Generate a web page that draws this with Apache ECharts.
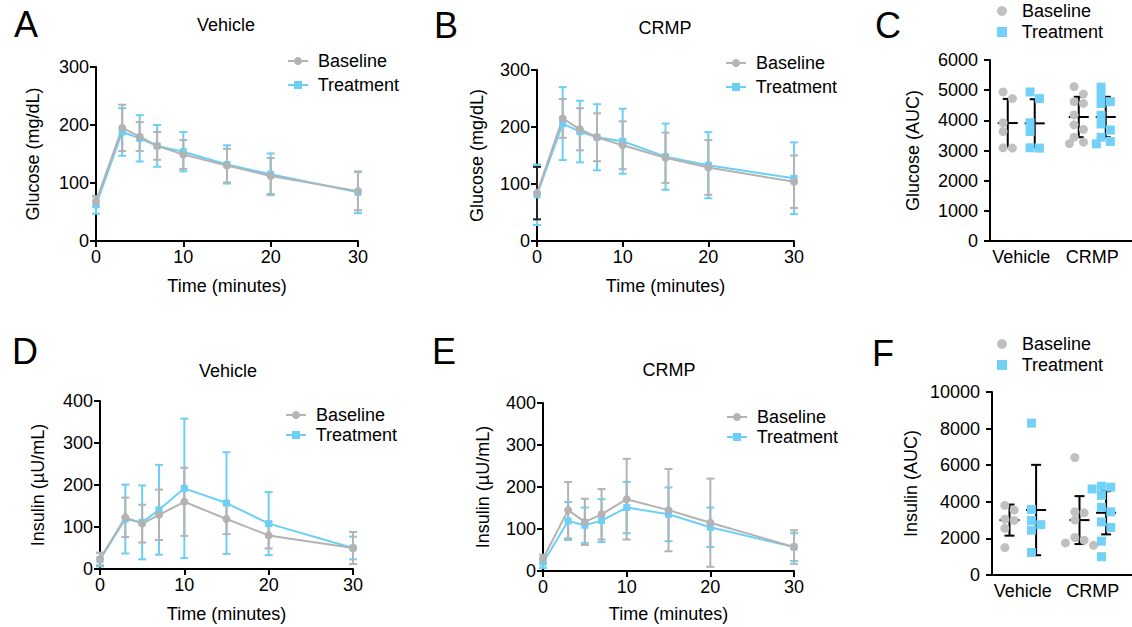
<!DOCTYPE html>
<html><head><meta charset="utf-8">
<script src="https://cdn.jsdelivr.net/npm/echarts@6/dist/echarts.min.js"></script>
<style>html,body{margin:0;padding:0;background:#fff}#c{width:1132px;height:627px}</style>
</head><body><div id="c"></div>
<script>
// ---------- DATA ----------
const times = [0, 3, 5, 7, 10, 15, 20, 30];
// A: Glucose, Vehicle
const glucoseVehBaseMean = [68, 195, 180, 164, 149, 130, 112, 86];
const glucoseVehBaseSD   = [9, 40, 25, 24, 25, 29, 31, 33];
const glucoseVehTreatMean = [62, 188, 177, 164, 154, 132, 115, 84];
const glucoseVehTreatSD   = [15, 41, 40, 36, 34, 33, 36, 36];
// B: Glucose, CRMP
const glucoseCrmpBaseMean = [84, 215, 196, 182, 168, 146, 129, 104];
const glucoseCrmpBaseSD   = [46, 34, 37, 42, 42, 44, 48, 46];
const glucoseCrmpTreatMean = [81, 206, 192, 182, 175, 148, 133, 110];
const glucoseCrmpTreatSD   = [53, 64, 54, 58, 57, 58, 58, 63];
// D: Insulin, Vehicle
const insulinVehBaseMean = [24, 123, 108, 129, 160, 119, 80, 50];
const insulinVehBaseSD   = [15, 47, 45, 60, 81, 36, 31, 38];
const insulinVehTreatMean = [22, 119, 111, 141, 192, 157, 108, 50];
const insulinVehTreatSD   = [16, 82, 88, 107, 166, 121, 75, 27];
// E: Insulin, CRMP
const insulinCrmpBaseMean = [29, 145, 117, 135, 171, 145, 115, 57];
const insulinCrmpBaseSD   = [10, 67, 55, 60, 96, 98, 105, 40];
const insulinCrmpTreatMean = [19, 119, 109, 120, 151, 135, 104, 57];
const insulinCrmpTreatSD   = [12, 45, 42, 51, 61, 64, 47, 33];
// C: Glucose AUC
const aucGroups = ['Vehicle', 'CRMP'];
const glucoseAucVehBase  = [4940, 4720, 3920, 3630, 3090, 3080];
const glucoseAucVehTreat = [4940, 4720, 3920, 3630, 3090, 3080];
const glucoseAucCrmpBase  = [5120, 4870, 4620, 4560, 4180, 3850, 3700, 3440, 3280, 3230];
const glucoseAucCrmpTreat = [5100, 4830, 4620, 4560, 4170, 3880, 3680, 3440, 3300, 3220];
const glucoseAucMean = [3910, 3900, 4110, 4110]; // VehBase, VehTreat, CrmpBase, CrmpTreat
const glucoseAucSD   = [800, 800, 670, 670];
// F: Insulin AUC
const insulinAucVehBase  = [3800, 3550, 3050, 2980, 2550, 1500];
const insulinAucVehTreat = [8300, 3580, 2980, 2750, 2450, 1230];
const insulinAucCrmpBase  = [6420, 3450, 3400, 3000, 2050, 1900, 1750, 1620];
const insulinAucCrmpTreat = [4850, 4800, 4700, 4350, 3700, 3450, 2900, 2600, 1850, 1000];
const insulinAucMean = [3000, 3550, 3000, 3400];
const insulinAucSD   = [850, 2470, 1310, 1180];

// ---------- STYLE ----------
const FONT = '"Liberation Sans", Arial, Helvetica, sans-serif';
const GRAY = '#b3b3b3', BLUE = '#6ccff6', SGRAY = '#c0c0c0', SBLUE = '#72d1f8';

const grids = [
  {left: 96, top: 67, width: 262, height: 174},
  {left: 537, top: 70, width: 257, height: 171},
  {left: 990, top: 60, width: 152, height: 181},
  {left: 100, top: 401, width: 253, height: 168},
  {left: 543, top: 403, width: 251, height: 168},
  {left: 992, top: 392, width: 150, height: 183}
];

function axis(extra) {
  const base = {
    axisLine: {show: true, onZero: false, lineStyle: {color: '#000', width: 2}},
    axisTick: {show: true, length: 6, lineStyle: {color: '#000', width: 2}},
    axisLabel: {color: '#000', fontSize: 18, fontFamily: FONT, margin: 7, formatter: v => String(v)},
    splitLine: {show: false},
    nameTextStyle: {color: '#000', fontSize: 18, fontFamily: FONT},
    nameLocation: 'middle'
  };
  return echarts.util.merge(base, extra, true);
}

const xAxes = [], yAxes = [], series = [];
function timeX(gi, gap) {
  return axis({type: 'value', gridIndex: gi, min: 0, max: 30, interval: 10, name: 'Time (minutes)', nameGap: gap});
}
function groupX(gi) {
  return axis({type: 'value', gridIndex: gi, min: 0.56, max: 2.56, axisTick: {show: false},
    axisLabel: {customValues: [1, 2], formatter: v => aucGroups[Math.round(v) - 1] || ''}});
}
xAxes.push(timeX(0, 36), timeX(1, 36), groupX(2), timeX(3, 36), timeX(4, 34), groupX(5));
yAxes.push(
  axis({type: 'value', gridIndex: 0, min: 0, max: 300, interval: 100, name: 'Glucose (mg/dL)', nameGap: 54}),
  axis({type: 'value', gridIndex: 1, min: 0, max: 300, interval: 100, name: 'Glucose (mg/dL)', nameGap: 51}),
  axis({type: 'value', gridIndex: 2, min: 0, max: 6000, interval: 1000, name: 'Glucose (AUC)', nameGap: 68, axisLabel: {margin: 12}}),
  axis({type: 'value', gridIndex: 3, min: 0, max: 400, interval: 100, name: 'Insulin (\u00b5U/mL)', nameGap: 53}),
  axis({type: 'value', gridIndex: 4, min: 0, max: 400, interval: 100, name: 'Insulin (\u00b5U/mL)', nameGap: 51}),
  axis({type: 'value', gridIndex: 5, min: 0, max: 10000, interval: 2000, name: 'Insulin (AUC)', nameGap: 72, axisLabel: {margin: 12}})
);

function errSeries(gi, means, sds, color, firstColor) {
  return {
    type: 'custom', name: 'sd', xAxisIndex: gi, yAxisIndex: gi, z: 2, silent: true,
    data: times.map((t, i) => [t, means[i] - sds[i], means[i] + sds[i]]),
    encode: {x: 0, y: [1, 2]},
    renderItem(params, api) {
      const x = api.value(0);
      const lo = api.coord([x, api.value(1)]);
      const hi = api.coord([x, api.value(2)]);
      const c = (firstColor && params.dataIndex === 0) ? firstColor : color;
      const st = {stroke: c, lineWidth: 2, fill: null};
      const w = 4;
      return {type: 'group', children: [
        {type: 'line', shape: {x1: lo[0], y1: lo[1], x2: hi[0], y2: hi[1]}, style: st},
        {type: 'line', shape: {x1: lo[0] - w, y1: lo[1], x2: lo[0] + w, y2: lo[1]}, style: st},
        {type: 'line', shape: {x1: hi[0] - w, y1: hi[1], x2: hi[0] + w, y2: hi[1]}, style: st}
      ]};
    }
  };
}
function lineSeries(gi, name, means, color, symbol, size) {
  return {
    type: 'line', name, xAxisIndex: gi, yAxisIndex: gi, z: 3,
    data: times.map((t, i) => [t, means[i]]),
    symbol, symbolSize: size, showSymbol: true,
    itemStyle: {color}, lineStyle: {color, width: 2}, animation: false
  };
}
function linePanel(gi, bM, bS, tM, tS, firstErr) {
  series.push(errSeries(gi, tM, tS, BLUE));
  series.push(errSeries(gi, bM, bS, GRAY, firstErr));
  series.push(lineSeries(gi, 'Treatment', tM, BLUE, 'rect', 7));
  series.push(lineSeries(gi, 'Baseline', bM, GRAY, 'circle', 8));
}
linePanel(0, glucoseVehBaseMean, glucoseVehBaseSD, glucoseVehTreatMean, glucoseVehTreatSD);
linePanel(1, glucoseCrmpBaseMean, glucoseCrmpBaseSD, glucoseCrmpTreatMean, glucoseCrmpTreatSD, '#222');
linePanel(3, insulinVehBaseMean, insulinVehBaseSD, insulinVehTreatMean, insulinVehTreatSD);
linePanel(4, insulinCrmpBaseMean, insulinCrmpBaseSD, insulinCrmpTreatMean, insulinCrmpTreatSD);

// beeswarm placement computed from values
function swarm(vals, center, grid, range) {
  const pxY = grid.height / range, pxX = grid.width / 2.0;
  const cands = [-5, 5, -10, 10, 0, -15, 15];
  const placed = [];
  return vals.slice().sort((a, b) => b - a).map(v => {
    for (const c of cands) {
      if (placed.every(p => Math.hypot(p[0] - c, (p[1] - v) * pxY) >= 8)) {
        placed.push([c, v]);
        return [center + c / pxX, v];
      }
    }
    placed.push([0, v]);
    return [center, v];
  });
}
const OFF = 0.19;
function aucPanel(gi, groups, means, sds, range) {
  const g = grids[gi];
  const pos = [1 - OFF, 1 + OFF, 2 - OFF, 2 + OFF];
  series.push({
    type: 'custom', name: 'meanSD', xAxisIndex: gi, yAxisIndex: gi, z: 2, silent: true,
    data: pos.map((p, i) => [p, means[i], sds[i]]),
    encode: {x: 0, y: 1},
    renderItem(params, api) {
      const x = api.value(0), m = api.value(1), s = api.value(2);
      const c = api.coord([x, m]), hi = api.coord([x, m + s]), lo = api.coord([x, m - s]);
      const st = {stroke: '#000', lineWidth: 2, fill: null};
      return {type: 'group', children: [
        {type: 'line', shape: {x1: c[0], y1: hi[1], x2: c[0], y2: lo[1]}, style: st},
        {type: 'line', shape: {x1: c[0] - 5, y1: hi[1], x2: c[0] + 5, y2: hi[1]}, style: st},
        {type: 'line', shape: {x1: c[0] - 5, y1: lo[1], x2: c[0] + 5, y2: lo[1]}, style: st},
        {type: 'line', shape: {x1: c[0] - 10, y1: c[1], x2: c[0] + 10, y2: c[1]}, style: st}
      ]};
    }
  });
  const names = ['Baseline', 'Treatment', 'Baseline', 'Treatment'];
  groups.forEach((vals, i) => {
    series.push({
      type: 'scatter', name: names[i], xAxisIndex: gi, yAxisIndex: gi, z: 3,
      data: swarm(vals, pos[i], g, range),
      symbol: i % 2 ? 'rect' : 'circle', symbolSize: 9,
      itemStyle: {color: i % 2 ? SBLUE : SGRAY, opacity: 1}
    });
  });
}
aucPanel(2, [glucoseAucVehBase, glucoseAucVehTreat, glucoseAucCrmpBase, glucoseAucCrmpTreat], glucoseAucMean, glucoseAucSD, 6000);
aucPanel(5, [insulinAucVehBase, insulinAucVehTreat, insulinAucCrmpBase, insulinAucCrmpTreat], insulinAucMean, insulinAucSD, 10000);

const legText = {color: '#000', fontSize: 18, fontFamily: FONT};
function lineLegend(left, top, gap) {
  return {left, top, padding: 0, orient: 'vertical', itemWidth: 20, itemHeight: 10, itemGap: gap, selectedMode: false,
    formatter: ' {name}', textStyle: legText, data: ['Baseline', 'Treatment']};
}
function dotLegend(left, top) {
  return {left, top, padding: 0, orient: 'vertical', itemWidth: 10, itemHeight: 10, itemGap: 3, selectedMode: false,
    formatter: '  {name}', textStyle: legText,
    data: [{name: 'Baseline', icon: 'circle', itemStyle: {color: SGRAY}},
           {name: 'Treatment', icon: 'rect', itemStyle: {color: SBLUE}}]};
}

const labels = [
  ['A', 26, 24, 36], ['B', 446, 25, 36], ['C', 888, 25, 36],
  ['D', 25, 351, 36], ['E', 444, 351, 36], ['F', 883, 353, 36],
  ['Vehicle', 226, 25, 18], ['CRMP', 665, 28, 18], ['Vehicle', 228, 371, 18], ['CRMP', 669, 370, 18]
];

const chart = echarts.init(document.getElementById('c'), null, {renderer: 'svg', width: 1132, height: 627});
chart.setOption({
  animation: false,
  backgroundColor: '#fff',
  textStyle: {fontFamily: FONT},
  grid: grids,
  xAxis: xAxes,
  yAxis: yAxes,
  legend: [lineLegend(287, 52, 6), lineLegend(725, 54, 6), dotLegend(997, 2),
           lineLegend(285, 406, 2), lineLegend(726, 408, 2), dotLegend(997, 335)],
  graphic: labels.map(([t, x, y, s]) => ({
    type: 'text', x, y, silent: true,
    style: {text: t, fontSize: s, fontFamily: FONT, fill: '#000', textAlign: 'center', textVerticalAlign: 'middle'}
  })),
  series
});
</script>
</body></html>
